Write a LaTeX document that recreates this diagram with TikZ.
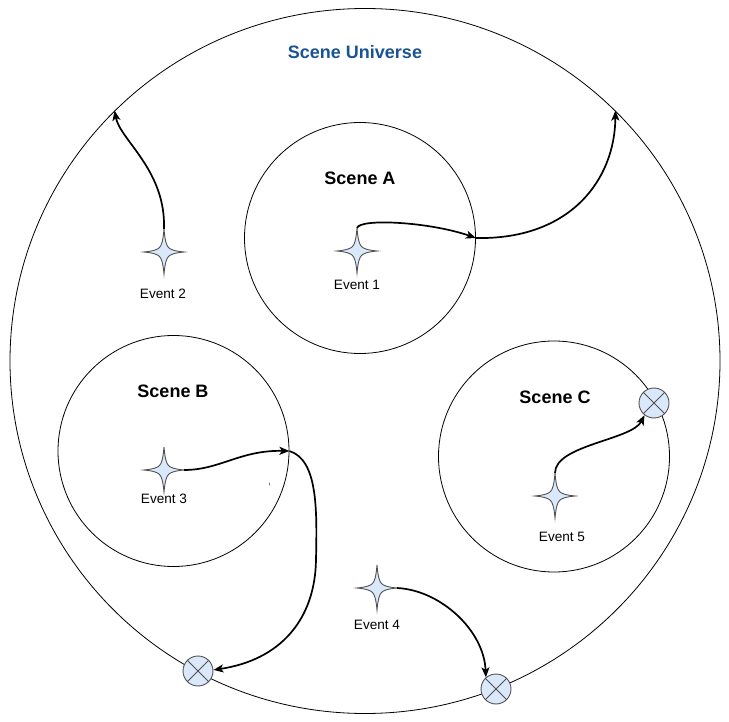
\documentclass[tikz,border=0pt]{standalone}
\usepackage{fontspec}
\setmainfont{Liberation Sans}
\usetikzlibrary{arrows.meta,shapes.geometric}
\definecolor{evfill}{HTML}{DAE8FC}
\definecolor{evline}{HTML}{505050}
\definecolor{univblue}{HTML}{1A5394}
\tikzset{
  scenecircle/.style={circle,draw=black,line width=0.8pt,minimum size=231pt,inner sep=0pt},
  universe/.style={ellipse,draw=black,line width=0.8pt,minimum width=710pt,minimum height=705pt,inner sep=0pt},
  endmark/.style={circle,draw=evline,fill=evfill,line width=0.9pt,minimum size=30pt,inner sep=0pt},
  crossline/.style={draw=evline,line width=0.9pt},
  flow/.style={draw=black,line width=1.7pt,-{Stealth[length=10pt,width=8pt,inset=2.5pt]}},
  scenetitle/.style={font=\fontsize{18}{21}\selectfont\bfseries,inner sep=0pt},
  univtitle/.style={font=\fontsize{18}{21}\selectfont\bfseries,text=univblue,inner sep=0pt},
  evlabel/.style={font=\fontsize{13.6}{16}\selectfont,inner sep=0pt},
  evstar/.pic={
    \draw[evline,fill=evfill,line width=0.9pt]
      (0,-23) .. controls (1,-11) and (2.5,-6.5) .. (4.5,-4.5)
      .. controls (6.5,-2.5) and (10,-1) .. (20,0)
      .. controls (10,1) and (6.5,2.5) .. (4.5,4.5)
      .. controls (2.5,6.5) and (1,11) .. (0,22)
      .. controls (-1,11) and (-2.5,6.5) .. (-4.5,4.5)
      .. controls (-6.5,2.5) and (-10,1) .. (-20,0)
      .. controls (-10,-1) and (-6.5,-2.5) .. (-4.5,-4.5)
      .. controls (-2.5,-6.5) and (-1,-11) .. cycle;
    \coordinate (-top) at (0,-23);
    \coordinate (-right) at (20,0);
  }
}
\begin{document}
\begin{tikzpicture}[x=1pt,y=-1pt]
\useasboundingbox (0,0) rectangle (729,722);
% universe
\node[universe] (U) at (365,361) {};
\node[univtitle] (ut) at (355,52) {Scene Universe};
% scenes
\node[scenecircle] (sA) at (360,238) {};
\node[scenecircle] (sB) at (173.5,451) {};
\node[scenecircle] (sC) at (554,456.5) {};
\node[scenetitle] (tA) at (360,178) {Scene A};
\node[scenetitle] (tB) at (173,391) {Scene B};
\node[scenetitle] (tC) at (555,397) {Scene C};
% end marks
\node[endmark] (xC) at (654,403) {};
\node[endmark] (xB) at (198,671) {};
\node[endmark] (xD) at (496,689) {};
\foreach \m in {xC,xB,xD}{
  \draw[crossline] (\m.45) -- (\m.225);
  \draw[crossline] (\m.135) -- (\m.315);
}
% events
\pic (e1) at (357,251) {evstar};
\pic (e2) at (164,252) {evstar};
\pic (e3) at (164,470) {evstar};
\pic (e4) at (377,588) {evstar};
\pic (e5) at (555,496) {evstar};
\node[evlabel] (l1) at (357,285) {Event 1};
\node[evlabel] (l2) at (163,294) {Event 2};
\node[evlabel] (l3) at (164,499) {Event 3};
\node[evlabel] (l4) at (377,625) {Event 4};
\node[evlabel] (l5) at (562,537) {Event 5};
% connectors
\draw[flow] (e1-top) .. controls (360,218) and (430,222) .. (sA.east);
\draw[flow] (sA.east) .. controls (570,240) and (615,180) .. (U.45);
\draw[flow] (e2-top) .. controls (166,170) and (120,140) .. (U.135);
\draw[flow] (e3-right) .. controls (220,470) and (240,450) .. (sB.east);
\draw[flow] (sB.east) .. controls (318,460) and (317,510) .. (316,560)
  .. controls (315,620) and (280,660) .. (xB.4);
\draw[flow] (e5-top) .. controls (555,445) and (632,440) .. (xC.232);
\draw[flow] (e4-right) .. controls (440,590) and (484,630) .. (xD.131);
% stray tick
\draw[black!70,line width=0.6pt] (269,482.5) -- (270,485.5);
\end{tikzpicture}
\end{document}
